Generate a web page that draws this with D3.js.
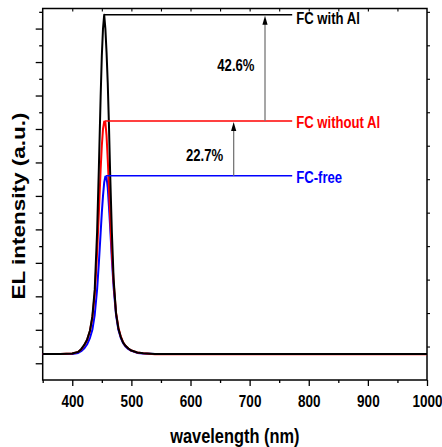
<!DOCTYPE html>
<html>
<head>
<meta charset="utf-8">
<script src="https://cdn.jsdelivr.net/npm/d3@7"></script>
<style>
  html, body { margin: 0; padding: 0; background: #fff; }
  svg { display: block; }
  text { font-family: "Liberation Sans", Arial, sans-serif; font-weight: bold; }
</style>
</head>
<body>
<svg id="chart" width="442" height="447"></svg>
<script>
// ---- data ----
const wavelength = [350, 380, 400, 410, 415, 420, 425, 430, 434, 438, 442, 445, 448, 450, 452, 454, 456, 458, 460, 462, 464, 467, 470, 474, 478, 482, 486, 490, 495, 500, 510, 520, 540, 560, 600, 700, 800, 900, 1000];
const fcWithAl    = [0.28, 0.28, 0.29, 0.34, 0.42, 0.54, 0.70, 0.98, 1.40, 2.20, 3.91, 5.84, 7.97, 9.19, 10.00, 10.41, 10.00, 9.29, 8.38, 7.16, 5.74, 3.91, 2.50, 1.50, 1.04, 0.79, 0.62, 0.52, 0.44, 0.38, 0.32, 0.30, 0.28, 0.28, 0.28, 0.28, 0.28, 0.28, 0.28];
const fcWithoutAl = [0.28, 0.28, 0.29, 0.34, 0.41, 0.53, 0.69, 0.97, 1.36, 2.05, 3.30, 4.50, 5.80, 6.50, 7.00, 7.22, 7.20, 6.80, 6.10, 5.30, 4.40, 3.30, 2.40, 1.52, 1.07, 0.80, 0.63, 0.52, 0.44, 0.38, 0.32, 0.30, 0.27, 0.27, 0.27, 0.27, 0.27, 0.27, 0.27];
const fcFree      = [0.28, 0.28, 0.28, 0.31, 0.36, 0.44, 0.56, 0.76, 1.00, 1.45, 2.20, 3.00, 3.90, 4.50, 5.00, 5.40, 5.58, 5.55, 5.25, 4.70, 4.10, 3.10, 2.25, 1.45, 1.00, 0.76, 0.60, 0.50, 0.42, 0.37, 0.31, 0.29, 0.28, 0.28, 0.28, 0.28, 0.28, 0.28, 0.28];

const seriesNames  = ["FC with Al", "FC without Al", "FC-free"];
const seriesColors = ["#000000", "#ff0000", "#0000ff"];
const peakWavelength = [454, 455, 457];
const peakValue      = [10.41, 7.24, 5.60];
const arrowWavelength = [726, 673];   // 42.6 % arrow (red->black), 22.7 % arrow (blue->red)
const arrowLabels     = ["42.6%", "22.7%"];
const arrowLabelValue = [8.91, 6.22];
const labelEndWavelength = 772;

const xTicks = [400, 500, 600, 700, 800, 900, 1000];

// ---- layout ----
const svg = d3.select("#chart");
const pLeft = 42.7, pRight = 427, pTop = 8.5, pBottom = 380;
const SQ = 0.82; // horizontal condensation of lettering

const x = d3.scaleLinear().domain([350, 1000]).range([pLeft, pRight]);
const y = d3.scaleLinear().domain([-0.5, 10.6]).range([pBottom, pTop]);

function label(tx, ty, str, size, color, anchor) {
  return svg.append("text")
    .attr("transform", `translate(${tx},${ty}) scale(${SQ},1)`)
    .attr("text-anchor", anchor || "start")
    .attr("font-size", size)
    .attr("fill", color || "#000")
    .text(str);
}

// frame
svg.append("rect")
  .attr("x", pLeft).attr("y", pTop)
  .attr("width", pRight - pLeft).attr("height", pBottom - pTop)
  .attr("fill", "none").attr("stroke", "#000").attr("stroke-width", 1.5);

// bottom axis major
const xAxis = d3.axisBottom(x).tickValues(xTicks).tickSize(6).tickFormat(d3.format("d"));
const gx = svg.append("g").attr("transform", `translate(0,${pBottom})`).call(xAxis);
gx.select(".domain").remove();
gx.selectAll(".tick line").attr("stroke-width", 1.3);
gx.selectAll(".tick text")
  .attr("font-size", 16.5).attr("dy", null).attr("y", null)
  .attr("transform", `translate(0,26.7) scale(${SQ},1)`)
  .attr("font-family", '"Liberation Sans", Arial, sans-serif')
  .attr("font-weight", "bold").attr("fill", "#000");
// bottom minor
const xMinor = d3.range(350, 1001, 50).filter(v => v % 100 !== 0);
svg.append("g").attr("transform", `translate(0,${pBottom})`)
  .call(d3.axisBottom(x).tickValues(xMinor).tickSize(3).tickFormat(""))
  .call(g => g.select(".domain").remove())
  .selectAll("line").attr("stroke-width", 1.3);
// top ticks (inward)
svg.append("g").attr("transform", `translate(0,${pTop})`)
  .call(d3.axisBottom(x).tickValues(d3.range(400, 1000, 50)).tickSize(3).tickFormat(""))
  .call(g => g.select(".domain").remove())
  .selectAll("line").attr("stroke-width", 1.1);

// left axis
const yMajor = d3.range(0, 11, 1);
const yMinor = d3.range(0.5, 10.6, 1);
svg.append("g").attr("transform", `translate(${pLeft},0)`)
  .call(d3.axisLeft(y).tickValues(yMajor).tickSize(7).tickFormat(""))
  .call(g => g.select(".domain").remove())
  .selectAll("line").attr("stroke-width", 1.3);
svg.append("g").attr("transform", `translate(${pLeft},0)`)
  .call(d3.axisLeft(y).tickValues(yMinor).tickSize(3.5).tickFormat(""))
  .call(g => g.select(".domain").remove())
  .selectAll("line").attr("stroke-width", 1.3);
// right axis minor ticks
svg.append("g").attr("transform", `translate(${pRight},0)`)
  .call(d3.axisRight(y).tickValues(yMinor).tickSize(3).tickFormat(""))
  .call(g => g.select(".domain").remove())
  .selectAll("line").attr("stroke-width", 1.1);

// curves
const seriesData = [fcWithAl, fcWithoutAl, fcFree];
const line = d3.line().x((d, i) => x(wavelength[i])).y(d => y(d));
[2, 1, 0].forEach(k => {
  svg.append("path")
    .datum(seriesData[k])
    .attr("d", line)
    .attr("fill", "none")
    .attr("stroke", seriesColors[k])
    .attr("stroke-width", 2)
    .attr("stroke-linejoin", "round");
});

// horizontal level lines + labels
const labelOffsets = [9.3, 6.7, 6.7];
seriesNames.forEach((name, k) => {
  svg.append("line")
    .attr("x1", x(peakWavelength[k])).attr("x2", x(labelEndWavelength))
    .attr("y1", y(peakValue[k])).attr("y2", y(peakValue[k]))
    .attr("stroke", seriesColors[k]).attr("stroke-width", 1.5);
  label(x(labelEndWavelength) + 4, y(peakValue[k]) + labelOffsets[k], name, 16, seriesColors[k]);
});

// arrows
arrowWavelength.forEach((w, i) => {
  const from = peakValue[i + 1], to = peakValue[i];
  const ax = x(w);
  svg.append("line")
    .attr("x1", ax).attr("x2", ax)
    .attr("y1", y(from)).attr("y2", y(to) + 6)
    .attr("stroke", "#777").attr("stroke-width", 1.3);
  const ty = y(to) + 1;
  svg.append("path")
    .attr("d", `M${ax},${ty} L${ax - 2.6},${ty + 9} L${ax + 2.6},${ty + 9} Z`)
    .attr("fill", "#000");
  label(ax - 10.5, y(arrowLabelValue[i]) + 6, arrowLabels[i], 16, "#000", "end");
});

// axis titles
label((pLeft + pRight) / 2, 443, "wavelength (nm)", 20, "#000", "middle");

svg.append("text")
  .attr("transform", `translate(25,206) scale(${SQ},1) rotate(-90)`)
  .attr("text-anchor", "middle")
  .attr("font-size", 22.5)
  .attr("fill", "#000")
  .text("EL intensity (a.u.)");
</script>
</body>
</html>
